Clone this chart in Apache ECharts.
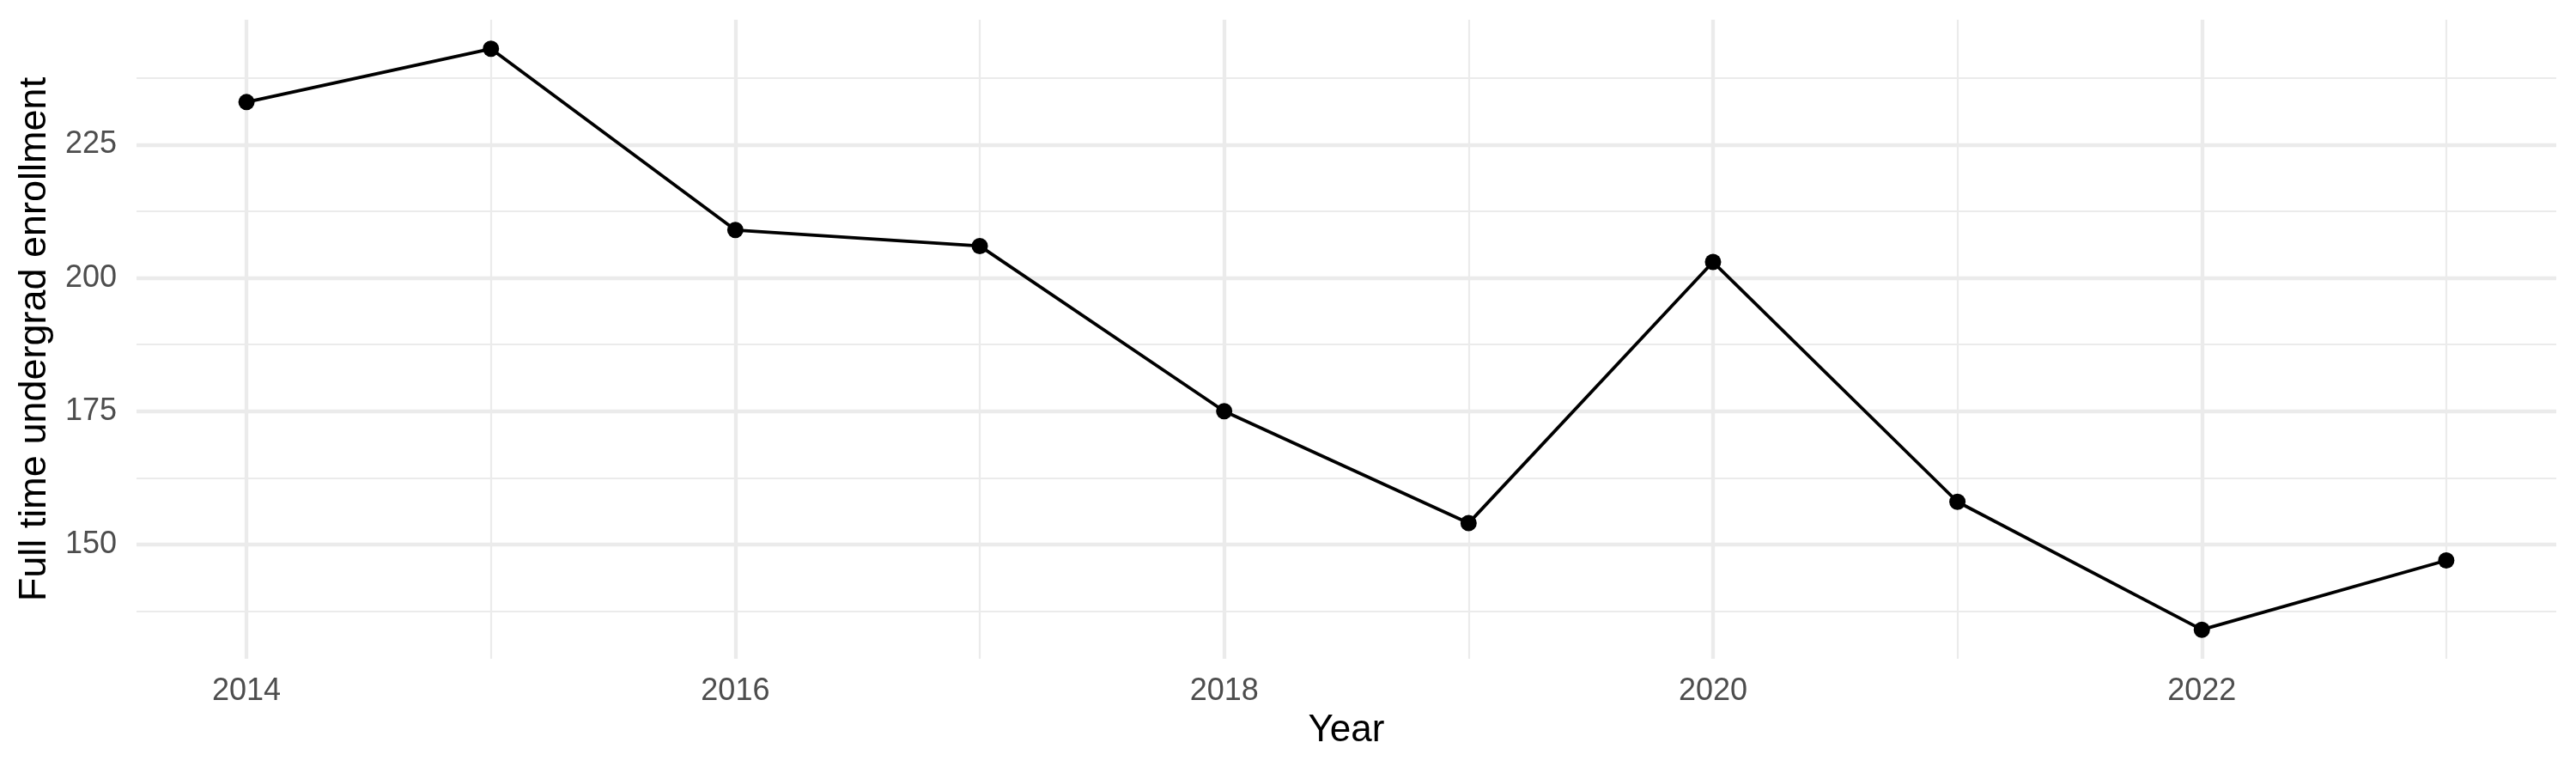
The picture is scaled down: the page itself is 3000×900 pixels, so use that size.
<!DOCTYPE html>
<html>
<head>
<meta charset="utf-8">
<script src="https://cdn.jsdelivr.net/npm/echarts@6/dist/echarts.min.js"></script>
<style>
  html, body { margin: 0; padding: 0; background: #fff; }
  #chart { width: 3000px; height: 900px; }
</style>
</head>
<body>
<div id="chart"></div>
<script>
// data
var years = [2014, 2015, 2016, 2017, 2018, 2019, 2020, 2021, 2022, 2023];
var enrollment = [233, 243, 209, 206, 175, 154, 203, 158, 134, 147];

// axis breaks
var xMajor = [2014, 2016, 2018, 2020, 2022];
var xMinor = [2015, 2017, 2019, 2021, 2023];
var yMajor = [150, 175, 200, 225];
var yMinor = [137.5, 162.5, 187.5, 212.5, 237.5];

var xRange = [2013.55, 2023.45];
var yRange = [128.55, 248.45];

var font = 'Liberation Sans';
var gridCol = '#ebebeb';

var points = _pairs(years, enrollment);
function _pairs(a, b) {
    var out = [];
    for (var i = 0; i < a.length; i++) out.push([a[i], b[i]]);
    return out;
}

var myChart = echarts.init(document.getElementById('chart'), null, {renderer: 'canvas'});
var option = {
    backgroundColor: '#ffffff',
    animation: false,
    grid: {left: 159, right: 23, top: 23, bottom: 133, containLabel: false},
    xAxis: [
        {
            type: 'value', min: xRange[0], max: xRange[1], position: 'bottom',
            name: 'Year', nameLocation: 'middle', nameGap: 62,
            nameTextStyle: {fontFamily: font, fontSize: 44, color: '#000'},
            axisLine: {show: false},
            axisTick: {show: false, customValues: xMajor},
            axisLabel: {
                customValues: xMajor, fontFamily: font, fontSize: 36, color: '#4d4d4d', margin: 20,
                formatter: function (v) { return String(v); }
            },
            splitLine: {show: true, lineStyle: {color: gridCol, width: 4.3}}
        },
        {
            type: 'value', min: xRange[0], max: xRange[1], position: 'top',
            axisLine: {show: false},
            axisTick: {show: false, customValues: xMinor},
            axisLabel: {show: false},
            splitLine: {show: true, lineStyle: {color: gridCol, width: 2.2}}
        }
    ],
    yAxis: [
        {
            type: 'value', min: yRange[0], max: yRange[1], position: 'left',
            name: 'Full time undergrad enrollment', nameLocation: 'middle', nameGap: 96,
            nameRotate: 90,
            nameTextStyle: {fontFamily: font, fontSize: 45, color: '#000'},
            axisLine: {show: false},
            axisTick: {show: false, customValues: yMajor},
            axisLabel: {customValues: yMajor, fontFamily: font, fontSize: 36, color: '#4d4d4d', margin: 23},
            splitLine: {show: true, lineStyle: {color: gridCol, width: 4.3}}
        },
        {
            type: 'value', min: yRange[0], max: yRange[1], position: 'right',
            axisLine: {show: false},
            axisTick: {show: false, customValues: yMinor},
            axisLabel: {show: false},
            splitLine: {show: true, lineStyle: {color: gridCol, width: 2.2}}
        }
    ],
    series: [
        {
            type: 'line',
            xAxisIndex: 0,
            yAxisIndex: 0,
            data: points,
            symbol: 'circle',
            symbolSize: 19,
            showAllSymbol: true,
            lineStyle: {color: '#000', width: 3.8},
            itemStyle: {color: '#000'}
        }
    ]
};
myChart.setOption(option);
</script>
</body>
</html>
